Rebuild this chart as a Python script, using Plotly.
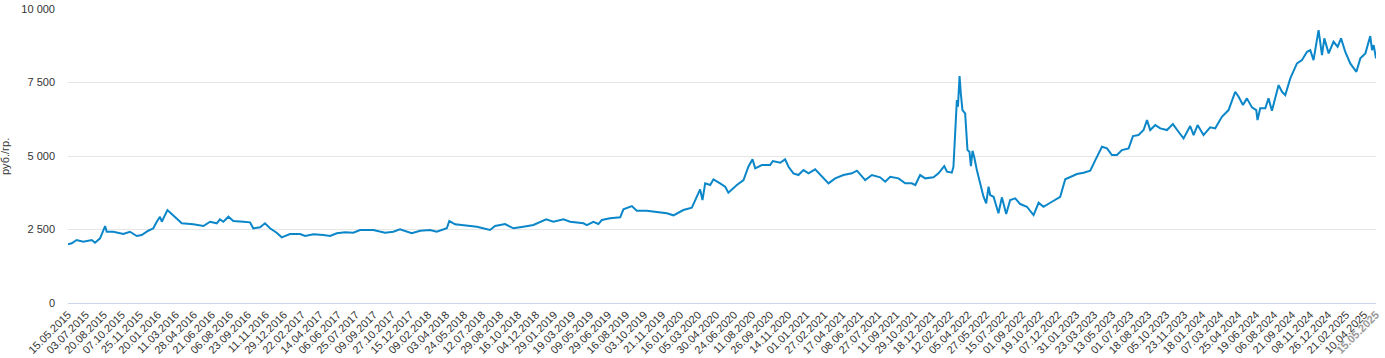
import plotly.graph_objects as go

tick_labels = [
    "15.05.2015", "03.07.2015", "20.08.2015", "07.10.2015", "25.11.2015", "20.01.2016",
    "11.03.2016", "28.04.2016", "21.06.2016", "06.08.2016", "23.09.2016", "11.11.2016",
    "29.12.2016", "22.02.2017", "14.04.2017", "06.06.2017", "25.07.2017", "09.09.2017",
    "27.10.2017", "15.12.2017", "09.02.2018", "03.04.2018", "24.05.2018", "12.07.2018",
    "29.08.2018", "16.10.2018", "04.12.2018", "29.01.2019", "19.03.2019", "09.05.2019",
    "29.06.2019", "16.08.2019", "03.10.2019", "21.11.2019", "16.01.2020", "05.03.2020",
    "30.04.2020", "24.06.2020", "11.08.2020", "26.09.2020", "14.11.2020", "01.01.2021",
    "27.02.2021", "17.04.2021", "08.06.2021", "27.07.2021", "11.09.2021", "29.10.2021",
    "18.12.2021", "12.02.2022", "05.04.2022", "27.05.2022", "15.07.2022", "01.09.2022",
    "19.10.2022", "07.12.2022", "31.01.2023", "23.03.2023", "13.05.2023", "01.07.2023",
    "18.08.2023", "05.10.2023", "23.11.2023", "18.01.2024", "07.03.2024", "25.04.2024",
    "19.06.2024", "06.08.2024", "21.09.2024", "08.11.2024", "26.12.2024", "21.02.2025",
    "10.04.2025",
]
last_label = "15.05.2025"

# position along the axis, in units of tick intervals (category index / step)
pos = [
    0.00, 0.21, 0.48, 0.85, 1.32, 1.50, 1.78, 2.06, 2.15, 2.52, 3.07, 3.44, 3.82, 4.09,
    4.46, 4.74, 4.93, 5.11, 5.21, 5.39, 5.52, 5.76, 6.04, 6.32, 6.96, 7.52, 7.89, 8.26,
    8.44, 8.63, 8.91, 9.18, 9.74, 10.11, 10.29, 10.67, 10.94, 11.22, 11.59, 11.87, 12.33,
    12.89, 13.17, 13.63, 14.18, 14.56, 14.93, 15.39, 15.85, 16.22, 16.96, 17.61, 18.07,
    18.44, 19.09, 19.56, 20.11, 20.48, 21.04, 21.18, 21.50, 22.15, 22.71, 23.44, 23.72,
    24.28, 24.74, 25.29, 25.85, 26.56, 26.96, 27.52, 27.89, 28.63, 28.82, 29.18, 29.46,
    29.65, 30.11, 30.67, 30.85, 31.32, 31.59, 32.15, 32.71, 33.26, 33.63, 34.18, 34.65,
    34.83, 35.11, 35.24, 35.39, 35.67, 35.85, 36.22, 36.50, 36.68, 37.15, 37.52, 37.79,
    38.02, 38.17, 38.54, 39.00, 39.15, 39.56, 39.83, 40.02, 40.29, 40.57, 40.85, 41.13,
    41.50, 41.78, 42.24, 42.61, 43.07, 43.54, 43.82, 44.28, 44.65, 45.11, 45.39, 45.67,
    46.13, 46.50, 46.87, 47.06, 47.33, 47.61, 48.07, 48.35, 48.67, 48.82, 49.09, 49.18,
    49.28, 49.37, 49.43, 49.52, 49.59, 49.68, 49.83, 49.96, 50.07, 50.15, 50.24, 50.33,
    50.48, 50.67, 50.85, 51.00, 51.13, 51.22, 51.41, 51.68, 51.87, 52.11, 52.33, 52.61,
    52.89, 53.26, 53.63, 53.91, 54.18, 54.65, 55.11, 55.39, 56.04, 56.41, 56.78, 57.06,
    57.43, 57.71, 57.98, 58.26, 58.54, 58.91, 59.15, 59.46, 59.74, 59.93, 60.11, 60.39,
    60.67, 61.04, 61.37, 61.68, 61.96, 62.33, 62.52, 62.74, 63.07, 63.44, 63.72, 64.09,
    64.46, 64.83, 65.02, 65.26, 65.48, 65.76, 66.00, 66.07, 66.22, 66.50, 66.68, 66.87,
    67.24, 67.43, 67.61, 67.89, 68.26, 68.54, 68.82, 69.00, 69.18, 69.46, 69.65, 69.78,
    70.02, 70.29, 70.52, 70.71, 70.94, 71.22, 71.56, 71.78, 72.06, 72.33, 72.43, 72.52,
    72.65,
]

# gold price, rub. per gram
price = [
    1996, 2030, 2142, 2085, 2142, 2050, 2200, 2618, 2424, 2424, 2346, 2424, 2278, 2312,
    2458, 2540, 2764, 2934, 2764, 2992, 3162, 3026, 2880, 2710, 2676, 2618, 2764, 2710,
    2846, 2764, 2934, 2788, 2764, 2744, 2540, 2574, 2710, 2540, 2390, 2234, 2346,
    2346, 2278, 2336, 2312, 2278, 2370, 2404, 2390, 2482, 2482, 2390, 2424,
    2506, 2370, 2458, 2482, 2424, 2540, 2788, 2676, 2618, 2594, 2482, 2618,
    2686, 2540, 2594, 2652, 2846, 2764, 2846, 2764, 2710, 2652, 2764, 2686,
    2822, 2880, 2914, 3186, 3298, 3138, 3138, 3104, 3050, 2982, 3162, 3240,
    3478, 3866, 3502, 4070, 4012, 4206, 4070, 3954, 3750, 4012, 4182, 4634,
    4886, 4580, 4692, 4692, 4828, 4770, 4886, 4634, 4410, 4352, 4522, 4410,
    4546, 4352, 4070, 4240, 4352, 4410, 4500, 4182, 4352, 4274, 4125, 4295,
    4240, 4070, 4070, 4012, 4352, 4240, 4274, 4410, 4658, 4466, 4432, 4634,
    5654, 6902, 6674, 7718, 7130, 6562, 6450, 5202, 5144, 4658, 5178, 4974,
    4522, 4012, 3614, 3390, 3954, 3672, 3614, 3050, 3594, 3026, 3502, 3560,
    3366, 3274, 2992, 3410, 3274, 3444, 3614, 4206, 4386, 4432, 4500, 4862,
    5314, 5260, 5032, 5032, 5202, 5260, 5678, 5712, 5882, 6222, 5882, 6052,
    5940, 5882, 6086, 5824, 5600, 6018, 5712, 6052, 5712, 5974, 5940, 6334,
    6562, 7184, 7014, 6732, 6960, 6654, 6562, 6222, 6620, 6620, 6960, 6540,
    7412, 7184, 7072, 7640, 8150, 8262, 8546, 8602, 8262, 9282, 8432, 9000,
    8490, 8886, 8716, 9000, 8546, 8150, 7864, 8320, 8490, 9078, 8602, 8772,
    8320,
]

y_ticks = [0, 2500, 5000, 7500, 10000]
y_tick_text = ["0", "2 500", "5 000", "7 500", "10 000"]
y_title = "руб./гр."

fig = go.Figure(
    go.Scatter(
        x=pos, y=price, mode="lines",
        line=dict(color="#0b87c9", width=2),
        hoverinfo="skip",
    )
)

tickvals = list(range(len(tick_labels))) + [pos[-1]]
ticktext = tick_labels + ['<span style="color:#9a9a9a"><b>' + last_label + "</b></span>"]

fig.update_layout(
    width=1385, height=358,
    margin=dict(l=68, r=9, t=9, b=55),
    paper_bgcolor="white", plot_bgcolor="white",
    font=dict(family="Liberation Sans, Arial, sans-serif", size=11, color="#333333"),
    showlegend=False,
    xaxis=dict(
        range=[0, pos[-1]],
        tickmode="array", tickvals=tickvals, ticktext=ticktext,
        tickangle=-45, showgrid=False, zeroline=False,
        showline=True, linecolor="#ccd6eb", linewidth=1,
        ticks="", automargin=False, ticklabelstandoff=0,
        tickfont=dict(size=11, color="#333333"),
    ),
    yaxis=dict(
        range=[0, 10000],
        tickmode="array", tickvals=y_ticks, ticktext=y_tick_text,
        showgrid=True, gridcolor="#e6e6e6", gridwidth=1,
        zeroline=False, showline=False, ticks="",
        automargin=False, ticklabelstandoff=12,
        tickfont=dict(size=11, color="#333333"),
    ),
    annotations=[
        dict(
            text=y_title, xref="paper", yref="paper",
            x=-0.0482, y=0.5, xanchor="center", yanchor="middle",
            textangle=-90, showarrow=False,
            font=dict(size=11, color="#333333"),
        )
    ],
)

fig.write_html(
    "out.html",
    config={"displayModeBar": False},
    post_script="document.body.style.margin='0';document.body.style.overflow='hidden';",
)
